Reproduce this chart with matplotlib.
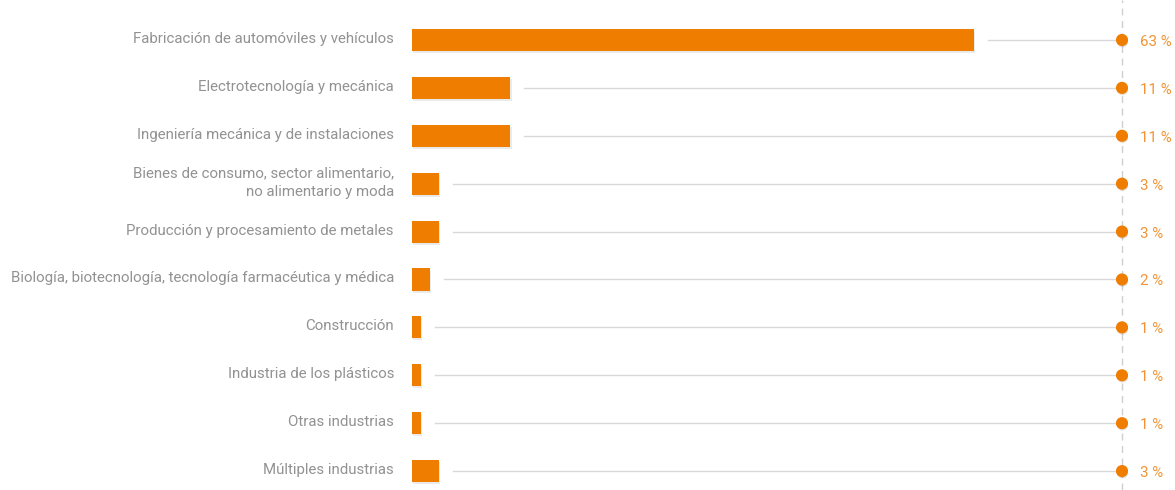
import matplotlib
matplotlib.use("Agg")
import matplotlib.pyplot as plt
import matplotlib.patheffects as pe

# datos
categorias = [
    "Fabricación de automóviles y vehículos",
    "Electrotecnología y mecánica",
    "Ingeniería mecánica y de instalaciones",
    "Bienes de consumo, sector alimentario,\nno alimentario y moda",
    "Producción y procesamiento de metales",
    "Biología, biotecnología, tecnología farmacéutica y médica",
    "Construcción",
    "Industria de los plásticos",
    "Otras industrias",
    "Múltiples industrias",
]
porcentajes = [63, 11, 11, 3, 3, 2, 1, 1, 1, 3]
etiquetas = ["63 %", "11 %", "11 %", "3 %", "3 %", "2 %", "1 %", "1 %", "1 %", "3 %"]

naranja = "#EF7D00"
naranja_claro = "#F29436"
gris_texto = "#929292"
gris_linea = "#d9d9d9"

plt.rcParams["font.family"] = ["Roboto", "DejaVu Sans"]

fig = plt.figure(figsize=(11.75, 4.9), dpi=100)
# ejes entre el inicio de las barras y la linea discontinua
ax = fig.add_axes([412 / 1175, 0, 710 / 1175, 1])
xmax = 79.6
ax.set_xlim(0, xmax)
ax.set_ylim(9.395, -0.835)
ax.axis("off")

sombra = [pe.SimplePatchShadow(offset=(1, -1.5), shadow_rgbFace="#555555", alpha=0.12), pe.Normal()]

y = list(range(len(categorias)))
bars = ax.barh(y, porcentajes, height=0.46, color=naranja, zorder=3)
for b in bars:
    b.set_path_effects(sombra)

# linea vertical discontinua
ax.axvline(xmax, color="#cfcfcf", lw=1, ls=(0, (5, 4)), zorder=1, clip_on=False)

for i, (cat, v, lab) in enumerate(zip(categorias, porcentajes, etiquetas)):
    ax.plot([v + 1.6, xmax], [i, i], color=gris_linea, lw=1, zorder=2, clip_on=False)
    ax.scatter([xmax], [i], s=60, color=naranja, zorder=4, clip_on=False,
               path_effects=[pe.SimplePatchShadow(offset=(0.5, -1.5), shadow_rgbFace="#555555", alpha=0.15), pe.Normal()])
    ax.annotate(lab, (xmax, i), xytext=(18, -2), textcoords="offset pixels",
                va="center", ha="left", fontsize=10.8, color=naranja_claro)
    ax.annotate(cat, (0, i), xytext=(-18, 1), textcoords="offset pixels",
                va="center", ha="right", fontsize=10.8, color=gris_texto,
                linespacing=1.45)

fig.savefig("out.png", dpi=100)
